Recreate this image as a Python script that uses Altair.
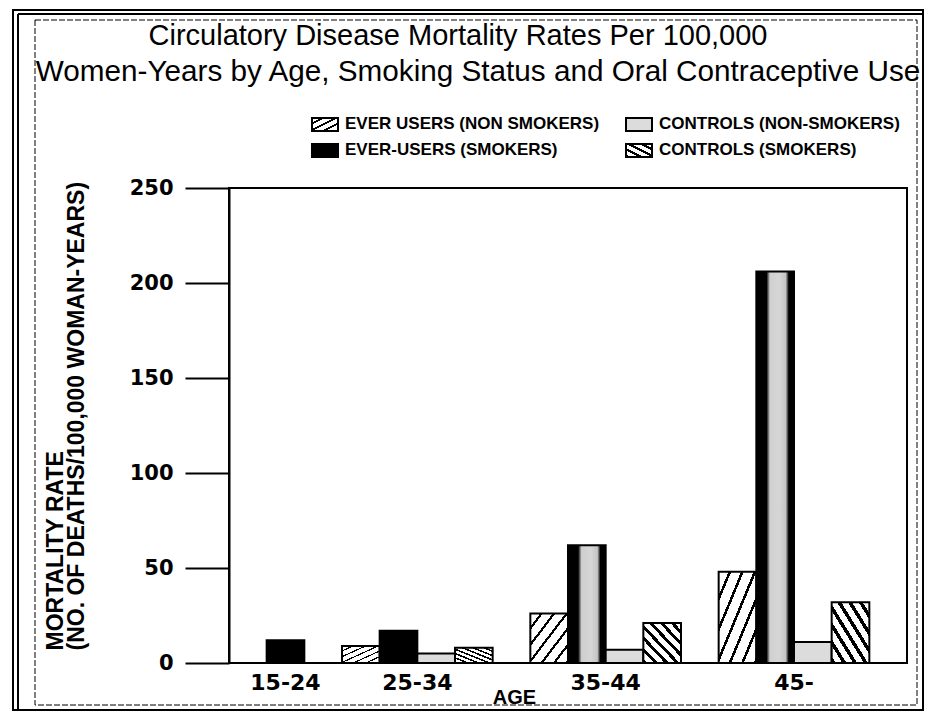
import altair as alt
import pandas as pd

# ---------------- data ----------------
title_lines = [
    "Circulatory Disease Mortality Rates Per 100,000",
    "Women-Years by Age, Smoking Status and Oral Contraceptive Use",
]
ages = ["15-24", "25-34", "35-44", "45-"]
series_codes = ["EN", "ES", "CN", "CS"]
series_labels = [
    "EVER USERS (NON SMOKERS)",
    "EVER-USERS (SMOKERS)",
    "CONTROLS (NON-SMOKERS)",
    "CONTROLS (SMOKERS)",
]
ever_non_smokers = [None, 9, 26, 48]
ever_smokers = [12, 17, 62, 206]
controls_non_smokers = [None, 5, 7, 11]
controls_smokers = [None, 8, 21, 32]
y_ticks = [0, 50, 100, 150, 200, 250]
y_title = ["MORTALITY RATE", "(NO. OF DEATHS/100,000 WOMAN-YEARS)"]
x_title = "AGE"

# ---------------- tables ----------------
series_values = [ever_non_smokers, ever_smokers, controls_non_smokers, controls_smokers]
rows = []
for i, age in enumerate(ages):
    for code, vals in zip(series_codes, series_values):
        v = vals[i]
        if v is None:
            continue
        rows.append({"age": age, "series": code, "value": v, "slot": f"{age}|{code}"})
df = pd.DataFrame(rows)

# band slots: a gap, then each group's bars followed by a gap
slots = ["gap-start"]
label_rows = []
for age in ages:
    grp = [r["slot"] for r in rows if r["age"] == age]
    slots += grp
    slots.append(f"gap-{age}")
    n = len(grp)
    label_rows.append({"age": age, "slot": grp[(n - 1) // 2], "odd": n % 2 == 1})
labels_df = pd.DataFrame(label_rows)

one = pd.DataFrame({"k": [0]})

# ---------------- layout constants ----------------
X0, Y0 = 229, 188          # plot origin on the page
W, H = 678, 475


def rx(px):
    return px - X0


def ry(py):
    return py - Y0


def stripes(n, duty, x1, y1, x2, y2, fg="black", bg="white"):
    stops = []
    for k in range(n):
        a = k / n
        b = a + (1 - duty) / n
        c = (k + 1) / n
        stops += [
            alt.GradientStop(color=bg, offset=a),
            alt.GradientStop(color=bg, offset=b),
            alt.GradientStop(color=fg, offset=b),
            alt.GradientStop(color=fg, offset=c),
        ]
    return alt.LinearGradient(gradient="linear", stops=stops, x1=x1, y1=y1, x2=x2, y2=y2)


fill_en = stripes(6, 0.22, 0, 0, 1, 1)
fill_cs = stripes(7, 0.38, 1, 0, 0, 1)
fill_en_leg = stripes(4, 0.3, 0, 0, 1, 1)
fill_cs_leg = stripes(4, 0.4, 1, 0, 0, 1)
fill_es_core = alt.LinearGradient(
    gradient="linear", x1=0, y1=0, x2=1, y2=0,
    stops=[
        alt.GradientStop(color="black", offset=0),
        alt.GradientStop(color="black", offset=0.27),
        alt.GradientStop(color="#cfcfcf", offset=0.36),
        alt.GradientStop(color="#d6d6d6", offset=0.6),
        alt.GradientStop(color="#c4c4c4", offset=0.78),
        alt.GradientStop(color="black", offset=0.86),
        alt.GradientStop(color="black", offset=1),
    ],
)
fill_cn = "#dcdcdc"

x_axis = alt.Axis(
    title=x_title, labels=False, ticks=False, domain=False, grid=False,
    titleFont="Liberation Sans", titleFontWeight="bold", titleFontSize=20,
    titleColor="black", titleX=rx(514), titleY=34, titleAlign="center",
    titleBaseline="middle",
)
x_scale = alt.Scale(domain=slots, paddingInner=0, paddingOuter=0)
X = alt.X("slot:N", scale=x_scale, axis=x_axis)
Y = alt.Y(
    "value:Q",
    scale=alt.Scale(domain=[0, 250], nice=False),
    axis=alt.Axis(
        values=y_ticks, tickSize=44, tickWidth=2, tickColor="black",
        domainColor="black", domainWidth=2, grid=False,
        labelFont="DejaVu Sans", labelFontWeight="bold", labelFontSize=21,
        labelColor="black", labelPadding=12,
        title=y_title, titleFont="Liberation Sans", titleFontWeight="bold",
        titleFontSize=23, titleColor="black", titleAngle=270, titleAlign="left",
        titleBaseline="middle", titleX=rx(55), titleY=ry(650), titleLineHeight=21,
    ),
)

base = alt.Chart(df)
bar_kw = dict(stroke="black", strokeWidth=2)
bars_en = base.mark_bar(fill=fill_en, **bar_kw).encode(x=X, y=Y).transform_filter(alt.datum.series == "EN")
bars_es_small = base.mark_bar(fill="black", **bar_kw).encode(x=X, y=Y).transform_filter(
    (alt.datum.series == "ES") & (alt.datum.value < 50))
bars_es_big = base.mark_bar(fill=fill_es_core, **bar_kw).encode(x=X, y=Y).transform_filter(
    (alt.datum.series == "ES") & (alt.datum.value >= 50))
bars_cn = base.mark_bar(fill=fill_cn, **bar_kw).encode(x=X, y=Y).transform_filter(alt.datum.series == "CN")
bars_cs = base.mark_bar(fill=fill_cs, **bar_kw).encode(x=X, y=Y).transform_filter(alt.datum.series == "CS")

lab_kw = dict(font="DejaVu Sans", fontWeight="bold", fontSize=22, color="black",
              align="center", baseline="middle")
labels_odd = alt.Chart(labels_df).mark_text(**lab_kw).encode(
    x=alt.X("slot:N", bandPosition=0.5, scale=x_scale, axis=x_axis),
    y=alt.value(ry(683)), text="age:N",
).transform_filter(alt.datum.odd == True)
labels_even = alt.Chart(labels_df).mark_text(**lab_kw).encode(
    x=alt.X("slot:N", bandPosition=1, scale=x_scale, axis=x_axis),
    y=alt.value(ry(683)), text="age:N",
).transform_filter(alt.datum.odd == False)

# ---------------- title ----------------
title_layers = [
    alt.Chart(one).mark_text(text=title_lines[0], font="Liberation Sans", fontSize=29,
                             color="black", align="center", baseline="middle")
    .encode(x=alt.value(rx(458)), y=alt.value(ry(36))),
    alt.Chart(one).mark_text(text=title_lines[1], font="Liberation Sans", fontSize=29.7,
                             color="black", align="center", baseline="middle")
    .encode(x=alt.value(rx(478)), y=alt.value(ry(72))),
]

# ---------------- legend ----------------
leg_fills = {"EN": fill_en_leg, "ES": "black", "CN": fill_cn, "CS": fill_cs_leg}
leg_pos = {"EN": (0, 0), "CN": (1, 0), "ES": (0, 1), "CS": (1, 1)}
col_x = [312, 626]
row_y = [124, 150]
legend_layers = []
for code, label in zip(series_codes, series_labels):
    c, r = leg_pos[code]
    sx, sy = col_x[c], row_y[r]
    legend_layers.append(
        alt.Chart(one).mark_rect(fill=leg_fills[code], stroke="black", strokeWidth=2).encode(
            x=alt.value(rx(sx)), x2=alt.value(rx(sx + 26)),
            y=alt.value(ry(sy - 6)), y2=alt.value(ry(sy + 7)),
        )
    )
    legend_layers.append(
        alt.Chart(one).mark_text(text=label, font="Liberation Sans", fontWeight="bold",
                                 fontSize=17, color="black", align="left", baseline="middle")
        .encode(x=alt.value(rx(sx + 33)), y=alt.value(ry(sy)))
    )

# ---------------- frames ----------------
frame_layers = [
    alt.Chart(one).mark_rect(fillOpacity=0, stroke="black", strokeWidth=2).encode(
        x=alt.value(rx(13)), x2=alt.value(rx(923)), y=alt.value(ry(10)), y2=alt.value(ry(710))),
    alt.Chart(one).mark_rule(stroke="black", strokeWidth=2).encode(
        x=alt.value(rx(18)), y=alt.value(ry(14)), y2=alt.value(ry(710))),
    alt.Chart(one).mark_rule(stroke="black", strokeWidth=2).encode(
        x=alt.value(rx(18)), x2=alt.value(rx(923)), y=alt.value(ry(14))),
    alt.Chart(one).mark_rect(fillOpacity=0, stroke="black", strokeWidth=1, strokeDash=[6, 2]).encode(
        x=alt.value(rx(35)), x2=alt.value(rx(917)), y=alt.value(ry(20)), y2=alt.value(ry(705))),
]

chart = alt.layer(
    *frame_layers, *title_layers, *legend_layers,
    bars_en, bars_es_small, bars_es_big, bars_cn, bars_cs,
    labels_odd, labels_even,
).properties(
    width=W, height=H,
    autosize=alt.AutoSizeParams(type="none"),
    padding={"left": X0 - 8, "top": Y0 - 8, "right": 17, "bottom": 49},
    background="white",
).configure_view(stroke="black", strokeWidth=2)

chart.save("out.html", embed_options={"renderer": "svg", "actions": False})
